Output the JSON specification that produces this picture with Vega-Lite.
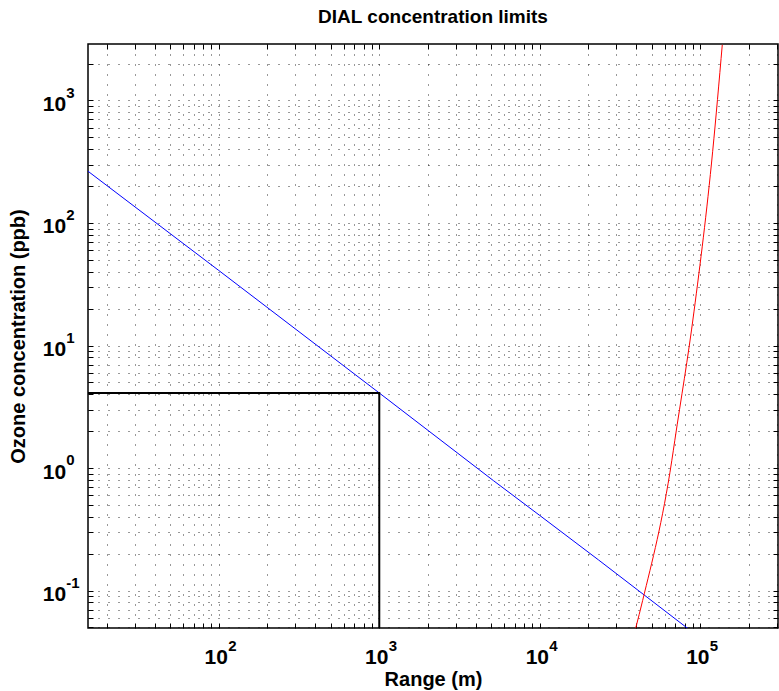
{
  "$schema": "https://vega.github.io/schema/vega-lite/v6.json",
  "width": 690,
  "height": 584,
  "autosize": "none",
  "padding": {"left": 88, "top": 44, "right": 1, "bottom": 63},
  "background": "white",
  "title": {"text": "DIAL concentration limits", "font": "Liberation Sans", "fontSize": 19, "fontWeight": "bold", "color": "black", "anchor": "middle", "offset": 17},
  "config": {
    "view": {"stroke": "black", "strokeWidth": 1.5},
    "axis": {"labelFont": "Liberation Sans", "titleFont": "Liberation Sans", "labelColor": "black", "titleColor": "black", "tickColor": "black", "labelOverlap": false, "labelFlush": false}
  },
  "datasets": {
    "blue": [
      {"range": 15.3, "conc": 265},
      {"range": 100, "conc": 41},
      {"range": 1000, "conc": 4.1},
      {"range": 5140, "conc": 0.79},
      {"range": 10000, "conc": 0.41},
      {"range": 23200, "conc": 0.178},
      {"range": 85400, "conc": 0.048}
    ],
    "red": [
      {"range": 39600, "conc": 0.0495},
      {"range": 43700, "conc": 0.0828},
      {"range": 66400, "conc": 1.147},
      {"range": 69300, "conc": 1.67},
      {"range": 91400, "conc": 19.1},
      {"range": 119400, "conc": 385},
      {"range": 137000, "conc": 2844}
    ],
    "black": [
      {"step": 1, "range": 15.3, "conc": 4.1},
      {"step": 2, "range": 1000, "conc": 4.1},
      {"step": 3, "range": 1000, "conc": 0.0495}
    ]
  },
  "layer": [
    {
      "data": {"name": "blue"},
      "mark": {"type": "line", "color": "#0000ff", "strokeWidth": 1, "clip": true},
      "encoding": {
        "x": {"field": "range", "type": "quantitative",
          "scale": {"type": "log", "domain": [15.33, 304700], "nice": false},
          "axis": {"orient": "bottom",
            "values": [20,30,40,50,60,70,80,90,100,200,300,400,500,600,700,800,900,1000,2000,3000,4000,5000,6000,7000,8000,9000,10000,20000,30000,40000,50000,60000,70000,80000,90000,100000,200000,300000],
            "labelExpr": "indexof([100,1000,10000,100000], datum.value) >= 0 ? '10' : ''",
            "labelFontSize": 21, "labelFontWeight": "bold", "labelPadding": 40.3, "labelBaseline": "alphabetic", "labelOffset": -3,
            "domain": false, "grid": true, "gridColor": "black", "gridDash": [1, 9], "gridOpacity": 0.8,
            "tickSize": -5, "tickWidth": 1,
            "title": "Range (m)", "titleFontSize": 20, "titleFontWeight": "bold", "titlePadding": 2}},
        "y": {"field": "conc", "type": "quantitative",
          "scale": {"type": "log", "domain": [0.0495, 2890], "nice": false},
          "axis": {"orient": "left",
            "values": [0.05,0.06,0.07,0.08,0.09,0.1,0.2,0.3,0.4,0.5,0.6,0.7,0.8,0.9,1,2,3,4,5,6,7,8,9,10,20,30,40,50,60,70,80,90,100,200,300,400,500,600,700,800,900,1000,2000],
            "labelExpr": "indexof([0.1,1,10,100,1000], datum.value) >= 0 ? '10' : ''",
            "labelFontSize": 21, "labelFontWeight": "bold", "labelPadding": 27.3, "labelBaseline": "alphabetic", "labelOffset": 10,
            "domain": false, "grid": true, "gridColor": "black", "gridDash": [1, 9], "gridOpacity": 0.8,
            "tickSize": -5, "tickWidth": 1,
            "title": "Ozone concentration (ppb)", "titleFontSize": 20, "titleFontWeight": "bold", "titlePadding": 14}}
      }
    },
    {
      "data": {"name": "red"},
      "mark": {"type": "line", "color": "#ff0000", "strokeWidth": 1, "clip": true, "interpolate": "monotone"},
      "encoding": {
        "x": {"field": "range", "type": "quantitative",
          "axis": {"orient": "top", "labels": false, "domain": false, "grid": false, "title": null,
            "values": [20,30,40,50,60,70,80,90,100,200,300,400,500,600,700,800,900,1000,2000,3000,4000,5000,6000,7000,8000,9000,10000,20000,30000,40000,50000,60000,70000,80000,90000,100000,200000,300000],
            "tickSize": -5}},
        "y": {"field": "conc", "type": "quantitative",
          "axis": {"orient": "right", "labels": false, "domain": false, "grid": false, "title": null,
            "values": [0.05,0.06,0.07,0.08,0.09,0.1,0.2,0.3,0.4,0.5,0.6,0.7,0.8,0.9,1,2,3,4,5,6,7,8,9,10,20,30,40,50,60,70,80,90,100,200,300,400,500,600,700,800,900,1000,2000],
            "tickSize": -5}}
      }
    },
    {
      "data": {"name": "black"},
      "mark": {"type": "line", "color": "black", "strokeWidth": 2, "clip": true},
      "encoding": {
        "x": {"field": "range", "type": "quantitative",
          "axis": {"orient": "bottom", "values": [100, 1000, 10000, 100000],
            "labelExpr": "datum.value == 100 ? '2' : datum.value == 1000 ? '3' : datum.value == 10000 ? '4' : '5'",
            "labelFontSize": 15, "labelFontWeight": "bold", "labelAlign": "left", "labelBaseline": "alphabetic",
            "labelPadding": 22, "labelOffset": 9,
            "ticks": false, "domain": false, "grid": false, "title": null}},
        "y": {"field": "conc", "type": "quantitative",
          "axis": {"orient": "left", "values": [0.1, 1, 10, 100, 1000],
            "labelExpr": "datum.value == 0.1 ? '-1' : datum.value == 1 ? '0' : datum.value == 10 ? '1' : datum.value == 100 ? '2' : '3'",
            "labelFontSize": 15, "labelFontWeight": "bold", "labelAlign": "left", "labelBaseline": "alphabetic",
            "labelPadding": 22.3, "labelOffset": -3.3,
            "ticks": false, "domain": false, "grid": false, "title": null}},
        "order": {"field": "step", "type": "quantitative"}
      }
    }
  ],
  "resolve": {"axis": {"x": "independent", "y": "independent"}}
}
